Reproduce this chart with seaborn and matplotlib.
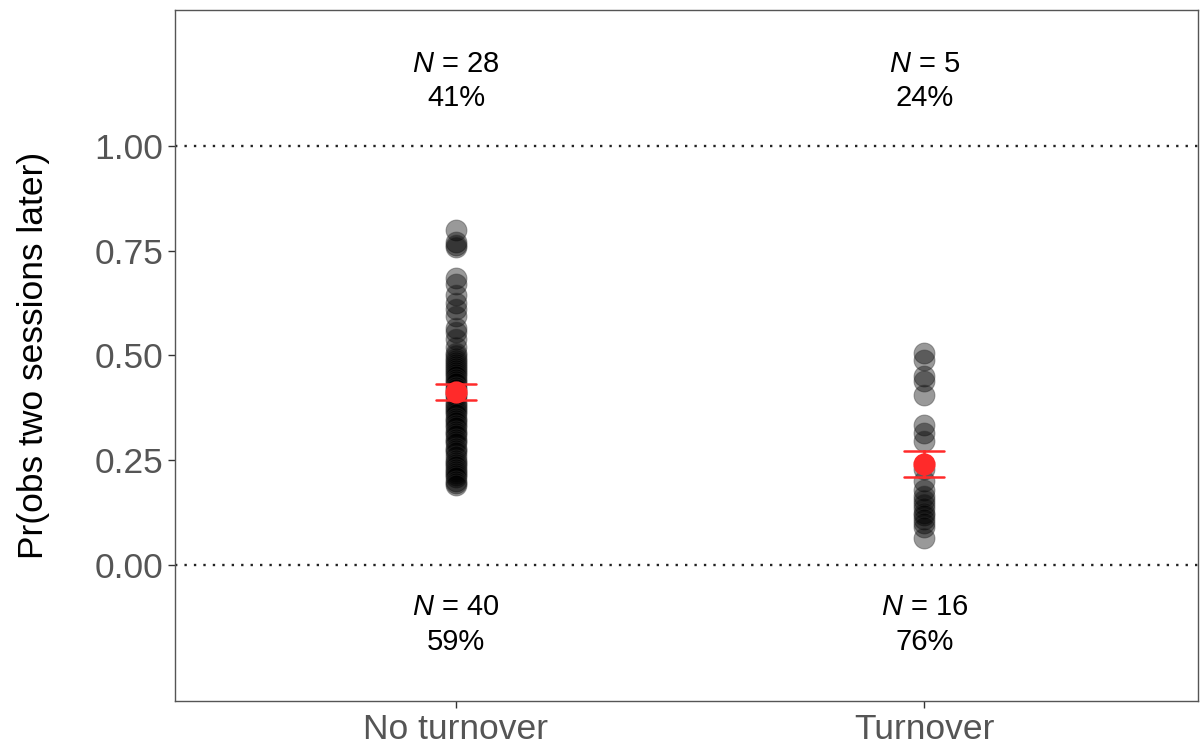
import matplotlib
matplotlib.use("Agg")
import matplotlib.pyplot as plt
import seaborn as sns
import pandas as pd
import numpy as np

# categories and values
groups = ["No turnover", "Turnover"]

no_turnover = [0.80, 0.77, 0.765, 0.76, 0.685, 0.67, 0.645, 0.625, 0.61, 0.595,
               0.565, 0.555, 0.54, 0.52, 0.505,
               0.50, 0.495, 0.49, 0.485, 0.48, 0.475, 0.47, 0.465, 0.46, 0.455,
               0.45, 0.445, 0.44, 0.435, 0.425, 0.42, 0.41, 0.405, 0.40, 0.39,
               0.385, 0.38, 0.375, 0.37, 0.365, 0.36, 0.35, 0.345, 0.34, 0.335,
               0.33, 0.32, 0.315, 0.31, 0.30, 0.295, 0.29, 0.28, 0.275, 0.27,
               0.26, 0.25, 0.245, 0.24, 0.235, 0.23, 0.225, 0.22, 0.215, 0.21,
               0.20, 0.195, 0.19]

turnover = [0.505, 0.49, 0.45, 0.44, 0.405, 0.335, 0.315, 0.295, 0.23, 0.20,
            0.18, 0.165, 0.155, 0.145, 0.135, 0.125, 0.12, 0.11, 0.10, 0.09, 0.065]

n_above = [28, 5]
n_below = [40, 16]

y_ticks = [0.00, 0.25, 0.50, 0.75, 1.00]

df = pd.DataFrame({
    "group": [groups[0]] * len(no_turnover) + [groups[1]] * len(turnover),
    "prob": no_turnover + turnover,
})

sns.set_style("white")
plt.rcParams["font.family"] = ["Liberation Sans", "DejaVu Sans"]
plt.rcParams["mathtext.fontset"] = "custom"
plt.rcParams["mathtext.rm"] = "Liberation Sans"
plt.rcParams["mathtext.it"] = "Liberation Sans:italic"

fig = plt.figure(figsize=(12, 7.44), dpi=100)
ax = fig.add_axes([0.1458, 0.0578, 0.8527, 0.9288])

ax.axhline(0, color="#222222", linestyle=(0, (1, 3)), linewidth=1.7, zorder=0)
ax.axhline(1, color="#222222", linestyle=(0, (1, 3)), linewidth=1.7, zorder=0)

sns.stripplot(data=df, x="group", y="prob", order=groups, jitter=False,
              color="black", alpha=0.4, size=15, linewidth=0.8,
              edgecolor="#333333", ax=ax, zorder=2)

sns.pointplot(data=df, x="group", y="prob", order=groups, errorbar="se",
              color="#ff2a2a", linestyle="none", markersize=14,
              capsize=0.085, err_kws={"linewidth": 1.8}, ax=ax, zorder=5)

for i, g in enumerate(groups):
    total = n_above[i] + n_below[i]
    ax.text(i, 1.155, "$N$ = %d\n%d%%" % (n_above[i], round(100 * n_above[i] / total)),
            ha="center", va="center", fontsize=21, linespacing=1.3, color="black")
    ax.text(i, -0.143, "$N$ = %d\n%d%%" % (n_below[i], round(100 * n_below[i] / total)),
            ha="center", va="center", fontsize=21, linespacing=1.3, color="black")

ax.set_xlim(-0.6, 1.585)
ax.set_ylim(-0.325, 1.325)
ax.set_yticks(y_ticks)
ax.set_yticklabels(["%.2f" % t for t in y_ticks])
ax.set_xlabel("")
ax.set_ylabel("Pr(obs two sessions later)", fontsize=25.5, labelpad=32, color="black")

ax.tick_params(axis="both", labelsize=25.5, labelcolor="#555555", colors="#333333",
               length=5, width=1, direction="out", bottom=True, left=True)
for s in ax.spines.values():
    s.set_color("#555555")
    s.set_linewidth(1)

fig.savefig("out.png", dpi=100)
